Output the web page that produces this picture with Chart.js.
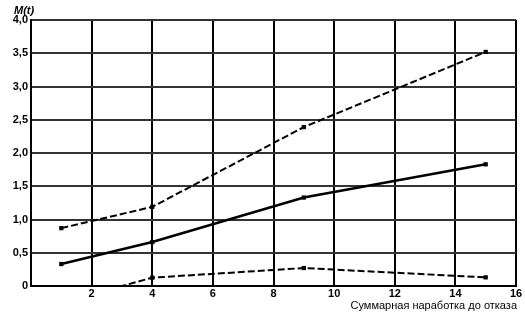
<!DOCTYPE html>
<html>
<head>
<meta charset="utf-8">
<script src="https://cdn.jsdelivr.net/npm/chart.js@4/dist/chart.umd.min.js"></script>
<style>
  html, body { margin: 0; padding: 0; background: #fff; }
  #wrap { width: 525px; height: 315px; position: relative; }
</style>
</head>
<body>
<div id="wrap"><canvas id="chart"></canvas></div>
<script>
// Суммарная наработка (x) for each point
const xValues = [1, 4, 9, 15];
// M(t) series
const upperValues = [0.87, 1.19, 2.39, 3.52];
const middleValues = [0.33, 0.66, 1.33, 1.83];
const lowerValues = [-0.25, 0.125, 0.27, 0.13];

const yTitle = 'M(t)';
const xTitle = 'Суммарная наработка до отказа';

function toPoints(values) {
    return xValues.map((x, i) => ({ x: x, y: values[i] }));
}

function lineSet(values, dash, width) {
    return {
        data: toPoints(values),
        borderColor: '#000',
        backgroundColor: '#000',
        borderWidth: width,
        borderDash: dash,
        pointStyle: 'rect',
        pointRadius: 3,
        pointBorderWidth: 0,
        tension: 0,
        fill: false
    };
}

// titles sit outside the axes, so draw them by hand
const titlesPlugin = {
    id: 'titles',
    afterDraw(chart) {
        const ctx = chart.ctx;
        const area = chart.chartArea;
        ctx.save();
        ctx.fillStyle = '#000';
        ctx.font = 'italic bold 11px "Liberation Sans", Arial, sans-serif';
        ctx.textAlign = 'left';
        ctx.textBaseline = 'alphabetic';
        ctx.fillText(yTitle, 14, 14);
        ctx.font = '11px "Liberation Sans", Arial, sans-serif';
        ctx.textAlign = 'right';
        ctx.fillText(xTitle, area.right + 1, 309);
        ctx.restore();
    }
};

new Chart(document.getElementById('chart'), {
    type: 'line',
    data: {
        datasets: [
            lineSet(upperValues, [7, 3], 2),
            lineSet(middleValues, [], 2.6),
            lineSet(lowerValues, [7, 3], 2)
        ]
    },
    options: {
        responsive: true,
        maintainAspectRatio: false,
        animation: false,
        layout: { padding: { top: 20, right: 9, left: 0, bottom: 0 } },
        plugins: {
            legend: { display: false },
            tooltip: { enabled: false }
        },
        scales: {
            x: {
                type: 'linear',
                min: 0,
                max: 16,
                afterFit: (scale) => { scale.height = 29; },
                ticks: {
                    stepSize: 2,
                    padding: 1,
                    color: '#000',
                    maxRotation: 0,
                    font: { family: '"Liberation Sans", Arial, sans-serif', size: 11, weight: 'bold' },
                    callback: (value) => value === 0 ? '' : String(value)
                },
                grid: { color: '#000', lineWidth: 2, drawTicks: false },
                border: { color: '#000', width: 2 }
            },
            y: {
                min: 0,
                max: 4,
                afterFit: (scale) => { scale.width = 31; },
                ticks: {
                    stepSize: 0.5,
                    padding: 3,
                    color: '#000',
                    font: { family: '"Liberation Sans", Arial, sans-serif', size: 11, weight: 'bold' },
                    callback: (value) => value === 0 ? '0' : value.toFixed(1).replace('.', ',')
                },
                grid: { color: '#333', lineWidth: 2, drawTicks: false },
                border: { color: '#000', width: 2 }
            }
        }
    },
    plugins: [titlesPlugin]
});
</script>
</body>
</html>
